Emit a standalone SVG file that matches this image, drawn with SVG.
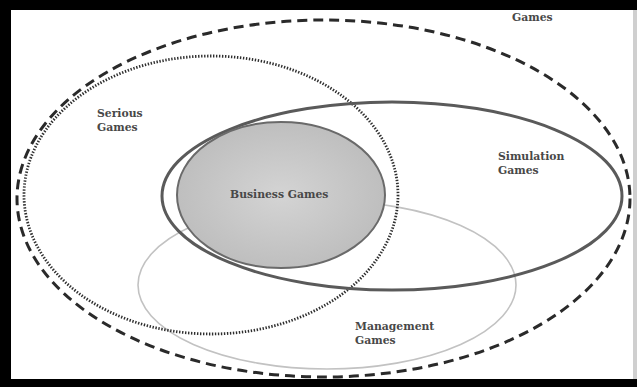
<svg xmlns="http://www.w3.org/2000/svg" width="637" height="387" viewBox="0 0 637 387">
<style>
  .lbl { font-family: "DejaVu Serif", "Liberation Serif", serif; font-weight: bold; font-size: 10.8px; fill: #484848; }
  .outer { fill: none; stroke: #2a2a2a; stroke-width: 3; stroke-dasharray: 10 6; }
  .serious { fill: none; stroke: #2e2e2e; stroke-width: 2.8; stroke-dasharray: 1.4 1.6; }
  .sim { fill: none; stroke: #5a5a5a; stroke-width: 3; }
  .mgmt { fill: none; stroke: #c2c2c2; stroke-width: 1.6; }
  .biz { fill: url(#bizFill); stroke: #6a6a6a; stroke-width: 2; }
</style>
<defs>
  <radialGradient id="bizFill" cx="0.5" cy="0.5" r="0.6">
    <stop offset="0" stop-color="#d4d4d4"/>
    <stop offset="1" stop-color="#bababa"/>
  </radialGradient>
</defs>
<rect x="0" y="0" width="637" height="387" fill="#000"/>
<rect x="11" y="10" width="622" height="369" fill="#fff"/>
<rect x="633" y="10" width="4" height="369" fill="#cfcfcf"/>
<g id="games">
  <ellipse class="outer" cx="323.5" cy="198.5" rx="306.5" ry="178.5"/>
  <text class="lbl" x="512" y="21">Games</text>
</g>
<g id="management-games">
  <ellipse class="mgmt" cx="327" cy="285" rx="189" ry="84"/>
  <text class="lbl" x="355" y="330">Management</text>
  <text class="lbl" x="355" y="344">Games</text>
</g>
<g id="serious-games">
  <ellipse class="serious" cx="211" cy="195" rx="187" ry="139"/>
  <text class="lbl" x="97" y="117">Serious</text>
  <text class="lbl" x="97" y="131">Games</text>
</g>
<g id="simulation-games">
  <ellipse class="sim" cx="392" cy="196" rx="230" ry="94"/>
  <text class="lbl" x="498" y="160">Simulation</text>
  <text class="lbl" x="498" y="174">Games</text>
</g>
<g id="business-games">
  <ellipse class="biz" cx="281" cy="195" rx="104" ry="73"/>
  <text class="lbl" x="230" y="198">Business Games</text>
</g>
<g id="connectors"></g>
</svg>
